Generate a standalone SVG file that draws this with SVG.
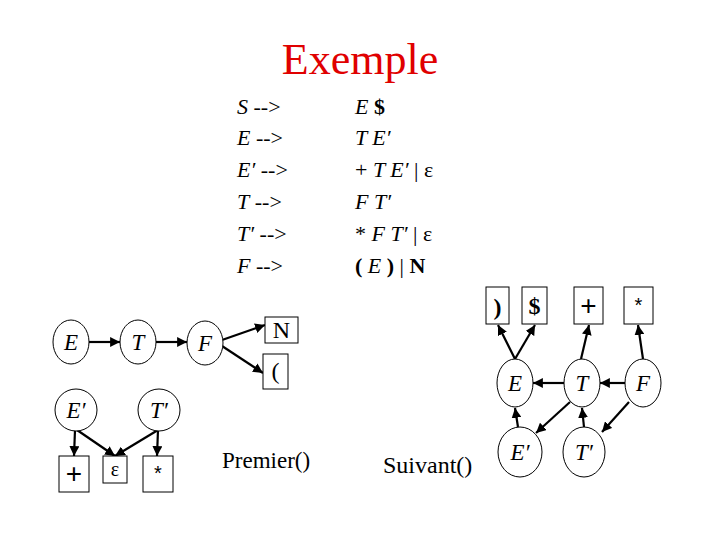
<svg xmlns="http://www.w3.org/2000/svg" width="720" height="540" viewBox="0 0 720 540">
<defs>
<marker id="ah" viewBox="0 0 10 10" refX="10" refY="5" markerWidth="4.5" markerHeight="4.5" orient="auto" markerUnits="strokeWidth">
<path d="M0,0 L10,5 L0,10 z" fill="#000"/>
</marker>
</defs>
<style>
.t{font-family:"Liberation Serif","Times New Roman",serif;fill:#000}
.it{font-style:italic}
.b{font-weight:bold}
.nd ellipse{fill:#fff;stroke:#000;stroke-width:1}
.nd rect{fill:#fff;stroke:#000;stroke-width:1}
.c line{stroke:#000;stroke-width:2.2;marker-end:url(#ah)}
.nl{font-family:"Liberation Serif","Times New Roman",serif;font-style:italic;font-size:23px;text-anchor:middle}
.bl{font-family:"Liberation Serif","Times New Roman",serif;font-size:24px;text-anchor:middle}
.sl{font-family:"Liberation Sans",Arial,sans-serif;text-anchor:middle}
</style>
<rect x="0" y="0" width="720" height="540" fill="#fff"/>
<text x="360" y="74" class="t" font-size="44" style="fill:#e00000" text-anchor="middle">Exemple</text>
<g id="grammar" class="t" font-size="22">
<text x="237" y="114"><tspan class="it">S</tspan> --&gt;</text>
<text x="237" y="145"><tspan class="it">E</tspan> --&gt;</text>
<text x="237" y="177"><tspan class="it">E′</tspan> --&gt;</text>
<text x="237" y="209"><tspan class="it">T</tspan> --&gt;</text>
<text x="237" y="241"><tspan class="it">T′</tspan> --&gt;</text>
<text x="237" y="273"><tspan class="it">F</tspan> --&gt;</text>
<text x="355" y="114"><tspan class="it">E</tspan> <tspan class="b">$</tspan></text>
<text x="355" y="145" class="it">T E′</text>
<text x="355" y="177">+ <tspan class="it">T E′</tspan> | ε</text>
<text x="355" y="209" class="it">F T′</text>
<text x="355" y="241">* <tspan class="it">F T′</tspan> | ε</text>
<text x="355" y="273"><tspan class="b">(</tspan> <tspan class="it">E</tspan> <tspan class="b">)</tspan> | <tspan class="b">N</tspan></text>
</g>
<g class="c" id="connectors">
<line x1="89" y1="342" x2="120" y2="342"/>
<line x1="156" y1="342" x2="187" y2="342"/>
<line x1="222" y1="340" x2="265" y2="325"/>
<line x1="222" y1="346" x2="263" y2="373"/>
<line x1="75" y1="430" x2="74" y2="456"/>
<line x1="77" y1="430" x2="115" y2="456"/>
<line x1="158" y1="430" x2="115" y2="456"/>
<line x1="158" y1="430" x2="157" y2="456"/>
<line x1="515" y1="359" x2="498" y2="325"/>
<line x1="515" y1="359" x2="535" y2="325"/>
<line x1="581" y1="359" x2="589" y2="325"/>
<line x1="643" y1="359" x2="638" y2="325"/>
<line x1="564" y1="383" x2="533" y2="383"/>
<line x1="625" y1="383" x2="600" y2="383"/>
<line x1="518" y1="427" x2="515" y2="408"/>
<line x1="584" y1="427" x2="582" y2="408"/>
<line x1="570" y1="402" x2="536" y2="433"/>
<line x1="629" y1="402" x2="602" y2="432"/>
</g>
<g class="nd">
<g id="p_E"><ellipse cx="71" cy="342" rx="18" ry="22"/><text x="71" y="350" class="nl">E</text></g>
<g id="p_T"><ellipse cx="138" cy="342" rx="18" ry="22"/><text x="138" y="350" class="nl">T</text></g>
<g id="p_F"><ellipse cx="205" cy="343" rx="18" ry="22"/><text x="205" y="351" class="nl">F</text></g>
<g id="p_N"><rect x="265" y="317" width="33" height="26"/><text x="281.5" y="338" class="bl">N</text></g>
<g id="p_lp"><rect x="263" y="354" width="25" height="35"/><text x="275.5" y="379" class="bl">(</text></g>
<g id="p_Ep"><ellipse cx="76" cy="410" rx="21" ry="21"/><text x="76" y="418" class="nl">E′</text></g>
<g id="p_Tp"><ellipse cx="159" cy="410" rx="21" ry="21"/><text x="159" y="418" class="nl">T′</text></g>
<g id="p_plus"><rect x="59" y="456" width="30" height="36"/><text x="74" y="483" class="sl" font-size="28">+</text></g>
<g id="p_eps"><rect x="103" y="456" width="24" height="27"/><text x="115" y="476" class="t" font-size="20" text-anchor="middle">ε</text></g>
<g id="p_star"><rect x="143" y="456" width="30" height="36"/><text x="158" y="480" class="sl" font-size="20">*</text></g>
<g id="s_rp"><rect x="486" y="287" width="23" height="37"/><text x="497.5" y="315" class="bl b">)</text></g>
<g id="s_dol"><rect x="522" y="287" width="25" height="37"/><text x="534.5" y="314" class="bl b">$</text></g>
<g id="s_plus"><rect x="574" y="287" width="29" height="37"/><text x="588.5" y="315" class="sl" font-size="28">+</text></g>
<g id="s_star"><rect x="624" y="287" width="29" height="37"/><text x="638.5" y="312" class="sl" font-size="20">*</text></g>
<g id="s_E"><ellipse cx="515" cy="383" rx="18" ry="24"/><text x="515" y="391" class="nl">E</text></g>
<g id="s_T"><ellipse cx="582" cy="383" rx="18" ry="24"/><text x="582" y="391" class="nl">T</text></g>
<g id="s_F"><ellipse cx="643" cy="383" rx="18" ry="24"/><text x="643" y="391" class="nl">F</text></g>
<g id="s_Ep"><ellipse cx="520" cy="452" rx="22" ry="25"/><text x="520" y="460" class="nl">E′</text></g>
<g id="s_Tp"><ellipse cx="584" cy="452" rx="21" ry="25"/><text x="584" y="460" class="nl">T′</text></g>
</g>
<text x="222" y="468" class="t" font-size="23">Premier()</text>
<text x="383" y="473" class="t" font-size="24">Suivant()</text>
</svg>
